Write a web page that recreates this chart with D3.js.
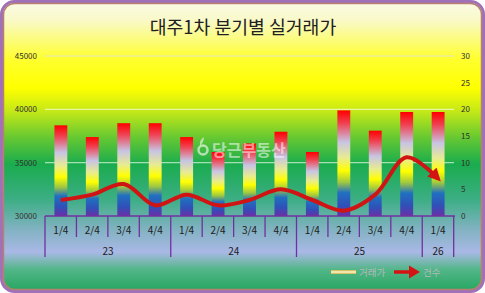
<!DOCTYPE html>
<html><head><meta charset="utf-8">
<script src="https://cdn.jsdelivr.net/npm/d3@7/dist/d3.min.js"></script>
<style>body{margin:0;background:#fff;overflow:hidden}</style></head>
<body>
<script>
const title = "대주1차 분기별 실거래가";
const quarters = ["1/4","2/4","3/4","4/4","1/4","2/4","3/4","4/4","1/4","2/4","3/4","4/4","1/4"];
const yearOf = ["23","23","23","23","24","24","24","24","25","25","25","25","26"];
const years = ["23","24","25","26"];
const prices = [38500,37400,38700,38700,37400,36000,36800,37900,36000,39900,38000,39750,39750];
const counts = [3,4,6,2,4,2,3,5,3,1,4,11,7];
const leftTicks = [30000,35000,40000,45000];
const rightTicks = [0,5,10,15,20,25,30];
const legendNames = ["거래가","건수"];

const W = 485, H = 293;
const FONT = "'Noto Sans CJK KR','Noto Sans',sans-serif";
const svg = d3.select("body").append("svg").attr("width", W).attr("height", H)
  .style("font-family", FONT);
const defs = svg.append("defs");

// background gradient
const bg = defs.append("linearGradient").attr("id","bg")
  .attr("gradientUnits","userSpaceOnUse").attr("x1",0).attr("y1",0).attr("x2",0).attr("y2",H);
[[0,"#fbfbea"],[0.07,"#f9f9c8"],[0.2,"#ffff30"],[0.3,"#ffff00"],[0.38,"#c4e818"],
 [0.47,"#66c832"],[0.56,"#1aac4e"],[0.68,"#3cae84"],[0.78,"#80b2c0"],[0.86,"#aab8e6"],
 [0.92,"#52b688"],[1,"#22a45c"]].forEach(([o,c])=>bg.append("stop").attr("offset",o).attr("stop-color",c));

// bar gradient
const bgBar = defs.append("linearGradient").attr("id","bar")
  .attr("x1",0).attr("y1",0).attr("x2",0).attr("y2",1);
[[0,"#ff0000"],[0.12,"#f04050"],[0.3,"#c8c4e4"],[0.45,"#e8ec90"],[0.57,"#ffff00"],
 [0.68,"#a0c840"],[0.78,"#2070c0"],[0.9,"#3050b8"],[1,"#6a30a8"]]
 .forEach(([o,c])=>bgBar.append("stop").attr("offset",o).attr("stop-color",c));

const lg = defs.append("linearGradient").attr("id","lgsym").attr("x1",0).attr("y1",0).attr("x2",0).attr("y2",1);
[[0,"#c8b040"],[0.5,"#fff8d0"],[1,"#c8b040"]].forEach(([o,c])=>lg.append("stop").attr("offset",o).attr("stop-color",c));

// arrow marker
defs.append("marker").attr("id","arr").attr("viewBox","0 0 10 10")
  .attr("refX",7).attr("refY",5).attr("markerUnits","userSpaceOnUse")
  .attr("markerWidth",14).attr("markerHeight",13).attr("orient","auto")
  .append("path").attr("d","M0,0 L10,5 L0,10 z").attr("fill","#d41414");

// chart area with border
svg.append("rect").attr("x",1.5).attr("y",1.5).attr("width",W-3).attr("height",H-3)
  .attr("rx",13).attr("fill","url(#bg)").attr("stroke","#a070b8").attr("stroke-width",3);
svg.append("rect").attr("x",3.5).attr("y",3.5).attr("width",W-7).attr("height",H-7)
  .attr("rx",11).attr("fill","none").attr("stroke","#b88070").attr("stroke-width",1.5);

// title
svg.append("text").attr("x",243).attr("y",33.5).attr("text-anchor","middle")
  .attr("font-size",18.3).attr("fill","#202020").text(title);

const x0 = 45, x1 = 454;
const x = d3.scaleBand().domain(d3.range(quarters.length)).range([x0,x1])
  .paddingInner(0.59).paddingOuter(0.3);
const yL = d3.scaleLinear().domain([30000,45000]).range([216,56]);
const yR = d3.scaleLinear().domain([0,30]).range([216,56]);

// gridlines
svg.append("g").selectAll("line").data(leftTicks.slice(1)).join("line")
  .attr("x1",x0).attr("x2",x1).attr("y1",d=>yL(d)).attr("y2",d=>yL(d))
  .attr("stroke",(d,i)=>i===2?"#e4e4c8":"#ffffff").attr("stroke-opacity",(d,i)=>i===2?1:0.6).attr("stroke-width",1.2);

// left axis
const gL = svg.append("g").attr("transform",`translate(37,0)`)
  .call(d3.axisLeft(yL).tickValues(leftTicks).tickSize(0).tickPadding(0).tickFormat(d3.format("d")));
gL.select(".domain").remove();
gL.selectAll("text").attr("font-size",8).attr("fill","#303030").attr("font-family",FONT);

// right axis
const gR = svg.append("g").attr("transform",`translate(461,0)`)
  .call(d3.axisRight(yR).tickValues(rightTicks).tickSize(0).tickPadding(0));
gR.select(".domain").remove();
gR.selectAll("text").attr("font-size",8).attr("fill","#303030").attr("font-family",FONT);

// bars
svg.append("g").selectAll("rect").data(prices).join("rect")
  .attr("x",(d,i)=>x(i)).attr("width",x.bandwidth())
  .attr("y",d=>yL(d)).attr("height",d=>yL(30000)-yL(d))
  .attr("fill","url(#bar)");

// watermark
const wm = svg.append("g").attr("fill","#ffffff").attr("fill-opacity",0.55);
wm.append("circle").attr("cx",203).attr("cy",150).attr("r",4.5).attr("fill","none")
  .attr("stroke","#fff").attr("stroke-opacity",0.6).attr("stroke-width",2.5);
wm.append("path").attr("d","M200,146 Q199,140 204,137 Q204,142 200,146 Z");
wm.append("text").attr("x",212).attr("y",156).attr("font-size",16).attr("font-weight","bold").text("당근부동산");

// category axis
const axisColor = "#7030a0";
const ax = svg.append("g").attr("stroke",axisColor).attr("stroke-width",1.3);
ax.append("line").attr("x1",x0).attr("x2",x1+1).attr("y1",216).attr("y2",216);
const step = x.step();
d3.range(quarters.length+1).forEach(i=>{
  const xx = x0 + i*step;
  const boundary = (i===0 || i===quarters.length || yearOf[i]!==yearOf[i-1]);
  ax.append("line").attr("x1",xx).attr("x2",xx).attr("y1",216).attr("y2",boundary?257:237);
});
svg.append("g").selectAll("text").data(quarters).join("text")
  .attr("x",(d,i)=>x(i)+x.bandwidth()/2).attr("y",234).attr("text-anchor","middle")
  .attr("font-size",10).attr("fill","#202020").text(d=>d);
svg.append("g").selectAll("text").data(years).join("text")
  .attr("x",d=>{const idx=yearOf.map((y,i)=>y===d?i:-1).filter(i=>i>=0);
    return (x(idx[0]) + x(idx[idx.length-1]) + x.bandwidth())/2;})
  .attr("y",255).attr("text-anchor","middle").attr("font-size",10).attr("fill","#202020").text(d=>d);

// line
const line = d3.line().x((d,i)=>x(i)+x.bandwidth()/2).y(d=>yR(d)).curve(d3.curveCatmullRom.alpha(0.5));
svg.append("path").datum(counts).attr("d",line).attr("fill","none")
  .attr("stroke","#d01414").attr("stroke-width",4).attr("stroke-linejoin","round")
  .attr("marker-end","url(#arr)");

// legend
svg.append("rect").attr("x",331).attr("y",270).attr("width",25).attr("height",4).attr("fill","url(#lgsym)");
svg.append("text").attr("x",359).attr("y",275.5).attr("font-size",9.5).attr("fill","#b4b8bc").text(legendNames[0]);
svg.append("line").attr("x1",394).attr("x2",410).attr("y1",272).attr("y2",272)
  .attr("stroke","#d41414").attr("stroke-width",3.5);
svg.append("path").attr("d","M409,265.5 L420,272 L409,278.5 Z").attr("fill","#d41414");
svg.append("text").attr("x",423).attr("y",275.5).attr("font-size",9.5).attr("fill","#b4b8bc").text(legendNames[1]);
</script>
</body></html>
